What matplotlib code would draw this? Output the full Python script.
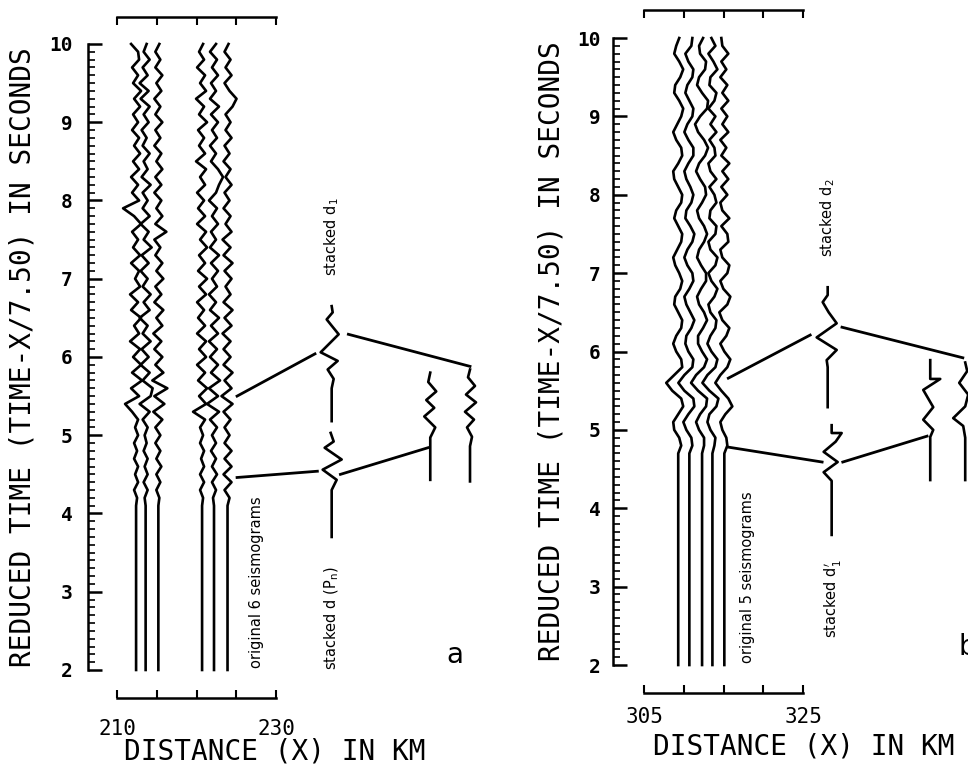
import numpy as np
import matplotlib.pyplot as plt
from matplotlib.ticker import MultipleLocator, FixedLocator, FixedFormatter

plt.rcParams['mathtext.fontset'] = 'dejavusans'

# --- panel a : original 6 seismograms, samples every 0.1 s from 4.1 s to 10.0 s
T_A = np.round(np.arange(4.1, 10.05, 0.1), 1)
X_A = [212.4, 213.6, 215.2, 220.7, 222.2, 223.9]   # distance of each trace (km)
TRACES_A = [
    [0, 1, -2, 2, -1, 2, -2, 1, -2, 2,
     -1, 2, -4, -11, 3, -5, 6, -4, 5, -3,
     4, -6, 3, -2, 5, -5, 2, -6, 4, -1,
     3, -5, 4, -3, 2, -4, 5, -2, -13, 3,
     -4, 2, -5, 3, -3, 4, -2, 3, -4, 2,
     -3, 4, -2, 5, -3, 2, -4, 3, 2, -5],
    [0, -1, 2, -2, 2, -1, 2, -2, 1, -1,
     2, -3, 4, -6, 5, 7, -3, 4, -5, 3,
     -4, 5, -3, 2, -6, 4, -2, 5, -3, 2,
     -5, 3, -4, 6, -2, 3, -5, 4, -3, 2,
     -3, 5, -4, 2, -2, 4, -3, 1, -4, 3,
     -2, 4, -5, 3, -6, 2, -3, 4, -2, 1],
    [0, 1, -2, 2, -2, 3, -2, 2, -3, 2,
     -3, 4, -5, 6, -4, 9, -6, 5, -3, 4,
     -4, 3, -5, 4, -2, 5, -4, 3, -3, 5,
     -2, 4, -3, 2, -4, 8, -3, 4, -2, 3,
     -4, 3, -3, 4, -2, 3, -4, 2, -3, 4,
     -3, 2, -4, 3, -2, 4, -3, 2, -3, 1],
    [0, 1, -2, 2, -2, 2, -1, 2, -2, 1,
     -2, 3, -9, 4, -3, 5, -4, 3, -5, 4,
     -3, 4, -5, 3, -4, 2, -5, 4, -3, 5,
     -4, 3, -3, 5, -2, 4, -5, 3, -4, 2,
     -5, 3, -2, 4, -6, 3, -3, 2, -4, 5,
     -3, 2, -6, 4, -2, 3, -5, 2, -3, 1],
    [0, -1, 2, -2, 3, -2, 2, -3, 2, -2,
     3, -4, 5, -7, 4, -5, 6, -3, 4, -4,
     3, -5, 4, -3, 5, -4, 2, -5, 3, -2,
     4, -3, 5, -4, 2, -3, 4, -2, 3, -5,
     2, 5, 9, 4, -3, 2, -4, 3, -2, 4,
     -3, 5, -4, 2, -3, 4, -2, 3, -4, 2],
    [0, 2, -3, 4, -4, 4, -3, 4, -3, 2,
     -3, 3, -4, 5, -6, 4, -3, 5, -4, 3,
     -4, 3, -5, 4, -3, 5, -4, 3, -2, 4,
     -3, 5, -4, 3, -5, 4, -2, 3, -4, 2,
     -3, 4, -2, 3, -4, 2, -3, 4, -2, 3,
     -2, 5, 9, 2, -3, 4, -2, 3, -3, 1],
]

# --- panel b : original 5 seismograms, samples every 0.1 s from 4.7 s to 10.0 s
T_B = np.round(np.arange(4.7, 10.05, 0.1), 1)
X_B = [309.3, 310.7, 312.3, 313.6, 315.1]
TRACES_B = [
    [0, 3, 1, -4,
     -5, 0, 5, 3, -6, -12, -4, 4, 3, -2,
     -5, -2, 3, 4, 0, -4, -3, 2, 4, 1,
     -3, -5, -1, 3, 4, 0, -4, -2, 3, 4,
     0, -4, -5, 0, 4, 3, -2, -5, -1, 3,
     5, 1, -4, -3, 2, 5, 1, -4, -2, 1],
    [0, 3, 2, -3,
     -6, -1, 5, 4, -5, -11, -5, 3, 4, -1,
     -4, -3, 2, 5, 1, -3, -5, 0, 4, 3,
     -2, -5, -2, 3, 5, 1, -4, -3, 2, 4,
     1, -3, -5, -1, 4, 4, -1, -5, -2, 3,
     4, 0, -4, -2, 3, 4, -1, -4, 2, 3],
    [0, 2, 2, -3,
     -6, -2, 4, 5, -4, -11, -6, 2, 5, 0,
     -4, -4, 1, 5, 2, -3, -5, -1, 4, 4,
     -1, -5, -3, 2, 5, 2, -3, -5, 0, 4,
     3, -2, -6, -3, 3, 6, 2, -4, -7, -2,
     5, 6, 0, -5, -3, 3, 4, -2, -3, 1],
    [0, 2, 3, -2,
     -5, -3, 4, 6, -3, -10, -5, 3, 5, -1,
     -5, -2, 3, 4, -2, -4, 2, 5, -1, -4,
     3, 5, -2, -4, 3, 4, -3, -2, 4, 2,
     -3, 4, -2, -4, 3, 2, -3, 4, -2, 3,
     -4, 2, 4, -3, -2, 5, 1, -4, 3, -1],
    [0, 3, 2, -2,
     -4, 1, 8, 4, -3, -9, -4, 3, 6, 0,
     -4, 2, 5, -2, -5, 3, 6, -1, -4, 3,
     5, -2, -4, 4, 3, -3, 5, -2, -4, 3,
     -3, 4, -2, 5, -3, 2, -4, 4, -2, 3,
     -3, 4, -2, 3, -4, 2, -3, 4, -2, -3],
]

# --- stacked traces: (distance km, times s, amplitudes)
STACKED_A = [
    (237.0, [3.70, 4.30, 4.43, 4.56, 4.69, 4.84, 4.92, 5.03],
            [0, 0, 5, -9, 10, -7, 2, -1]),
    (237.0, [5.18, 5.60, 5.72, 5.84, 5.95, 6.06, 6.29, 6.40, 6.48, 6.57, 6.65],
            [0, 0, 2, -4, 6, -11, 7, 0, -5, 1, 0]),
    (249.4, [4.43, 4.97, 5.10, 5.24, 5.35, 5.45, 5.56, 5.68, 5.80],
            [0, 0, 5, -6, 4, -4, 6, -2, 0]),
    (254.4, [4.41, 4.86, 4.98, 5.10, 5.20, 5.30, 5.42, 5.52, 5.63, 5.74, 5.84],
            [0, 0, 2, -3, 4, -5, 6, -4, 5, -2, 0]),
]
STACKED_B = [
    (328.1, [5.29, 5.80, 5.89, 6.02, 6.18, 6.36, 6.50, 6.63, 6.72, 6.82],
            [0, 0, -1, 9, -11, 9, 1, -5, 0, 0]),
    (328.6, [3.66, 4.35, 4.46, 4.59, 4.72, 4.85, 4.96, 4.96, 5.06],
            [0, 0, -8, 6, -8, 4, 10, 0, 0]),
    (341.0, [4.36, 4.91, 5.00, 5.13, 5.29, 5.51, 5.65, 5.65, 5.89],
            [0, 0, 3, -7, 3, -7, 10, 0, 0]),
    (345.4, [4.36, 4.90, 5.05, 5.15, 5.30, 5.45, 5.60, 5.75, 5.86],
            [0, 0, -2, -12, 0, 3, -6, 2, 0]),
]

# --- connecting lines ((x0, t0), (x1, t1))
LINKS_A = [((225.1, 5.50), (234.9, 6.04)), ((239.1, 6.29), (254.4, 5.88)),
           ((225.1, 4.46), (235.2, 4.54)), ((238.1, 4.50), (249.1, 4.84))]
LINKS_B = [((315.6, 5.66), (325.9, 6.21)), ((329.9, 6.31), (345.1, 5.92)),
           ((315.6, 4.78), (327.4, 4.59)), ((330.0, 4.59), (340.6, 4.92))]

GAIN = 1 / 7.95   # amplitude units -> km

YLABEL = 'REDUCED TIME (TIME-X/7.50) IN SECONDS'
XLABEL = 'DISTANCE (X) IN KM'
MONO = 'DejaVu Sans Mono'


def trace(ax, x0, t, amp, lw=1.9):
    ax.plot(x0 + np.asarray(amp) * GAIN, t, color='black', lw=lw,
            solid_joinstyle='round', clip_on=False)


def setup_axes(ax, xlim, xticks, xticklabels, ypad, xpad, top_out, bot_out,
               xlab_pos, ylab_x):
    ax.set_xlim(*xlim)
    ax.set_ylim(2, 10)
    ax.spines['right'].set_visible(False)
    for s in ('left', 'top', 'bottom'):
        ax.spines[s].set_linewidth(1.8)
    ax.spines['left'].set_bounds(2, 10)
    ax.spines['top'].set_position(('outward', top_out))
    ax.spines['bottom'].set_position(('outward', bot_out))
    ax.spines['top'].set_bounds(xticks[0], xticks[-1])
    ax.spines['bottom'].set_bounds(xticks[0], xticks[-1])

    ax.yaxis.set_major_locator(FixedLocator(range(2, 11)))
    ax.yaxis.set_minor_locator(MultipleLocator(0.1))
    ax.tick_params(axis='y', which='major', direction='in', length=10,
                   width=1.8, pad=ypad)
    ax.tick_params(axis='y', which='minor', direction='in', length=5, width=1.2)
    for lab in ax.get_yticklabels():
        lab.set_fontfamily(MONO)
        lab.set_fontweight('bold')
        lab.set_fontsize(14)

    ax.xaxis.set_major_locator(FixedLocator(xticks))
    ax.xaxis.set_major_formatter(FixedFormatter(xticklabels))
    ax.tick_params(axis='x', which='both', direction='in', length=6, width=1.5,
                   top=True, labeltop=False, pad=xpad)
    for lab in ax.get_xticklabels():
        lab.set_fontfamily(MONO)
        lab.set_fontsize(15)

    ax.set_ylabel(YLABEL, fontfamily=MONO, fontsize=20)
    ax.yaxis.label.set_va('center')
    ax.yaxis.set_label_coords(ylab_x, 0.5)
    ax.set_xlabel(XLABEL, fontfamily=MONO, fontsize=20)
    ax.xaxis.label.set_va('center')
    ax.xaxis.set_label_coords(*xlab_pos)
    ax.patch.set_alpha(0)


fig = plt.figure(figsize=(9.68, 7.65), dpi=100)
ax_a = fig.add_axes([0.0909, 0.1242, 0.4050, 0.8183])
ax_b = fig.add_axes([0.6333, 0.1307, 0.3667, 0.8196])

# spine offsets are in points (0.72 pt per pixel at 100 dpi)
setup_axes(ax_a, (206.35, 255.66), [210, 215, 220, 225, 230],
           ['210', '', '', '', '230'], 11, 15, 19.5, 20.5,
           (0.477, -0.131), -0.168)
setup_axes(ax_b, (301.1, 345.75), [305, 310, 315, 320, 325],
           ['305', '', '', '', '325'], 9, 10, 20, 20,
           (0.538, -0.130), -0.172)

for ax, x_list, t_grid, traces, stacked, links in (
        (ax_a, X_A, T_A, TRACES_A, STACKED_A, LINKS_A),
        (ax_b, X_B, T_B, TRACES_B, STACKED_B, LINKS_B)):
    for x0, amp in zip(x_list, traces):
        trace(ax, x0, np.r_[2.0, t_grid], np.r_[0, amp])
    for x0, t, amp in stacked:
        trace(ax, x0, t, amp)
    for (x0, t0), (x1, t1) in links:
        ax.plot([x0, x1], [t0, t1], color='black', lw=2.0, clip_on=False)

txt = dict(rotation=90, ha='center', va='bottom', fontsize=10.5,
           family='DejaVu Sans', clip_on=False)
ax_a.text(227.5, 2.03, 'original 6 seismograms', **txt)
ax_a.text(237.0, 2.0, r'stacked d (P$_\mathregular{n}$)', **txt)
ax_a.text(237.0, 7.03, r'stacked d$_\mathregular{1}$', **txt)
ax_a.text(252.5, 2.19, 'a', fontsize=20, ha='center', va='center',
          family='DejaVu Sans')

ax_b.text(318.0, 2.03, 'original 5 seismograms', **txt)
ax_b.text(328.1, 7.20, r'stacked d$_\mathregular{2}$', **txt)
ax_b.text(328.8, 2.34, r"stacked d$_\mathregular{1}^{\prime}$", **txt)
ax_b.text(344.5, 2.23, 'b', fontsize=20, ha='left', va='center',
          family='DejaVu Sans', clip_on=False)

fig.savefig('out.png', dpi=100)
